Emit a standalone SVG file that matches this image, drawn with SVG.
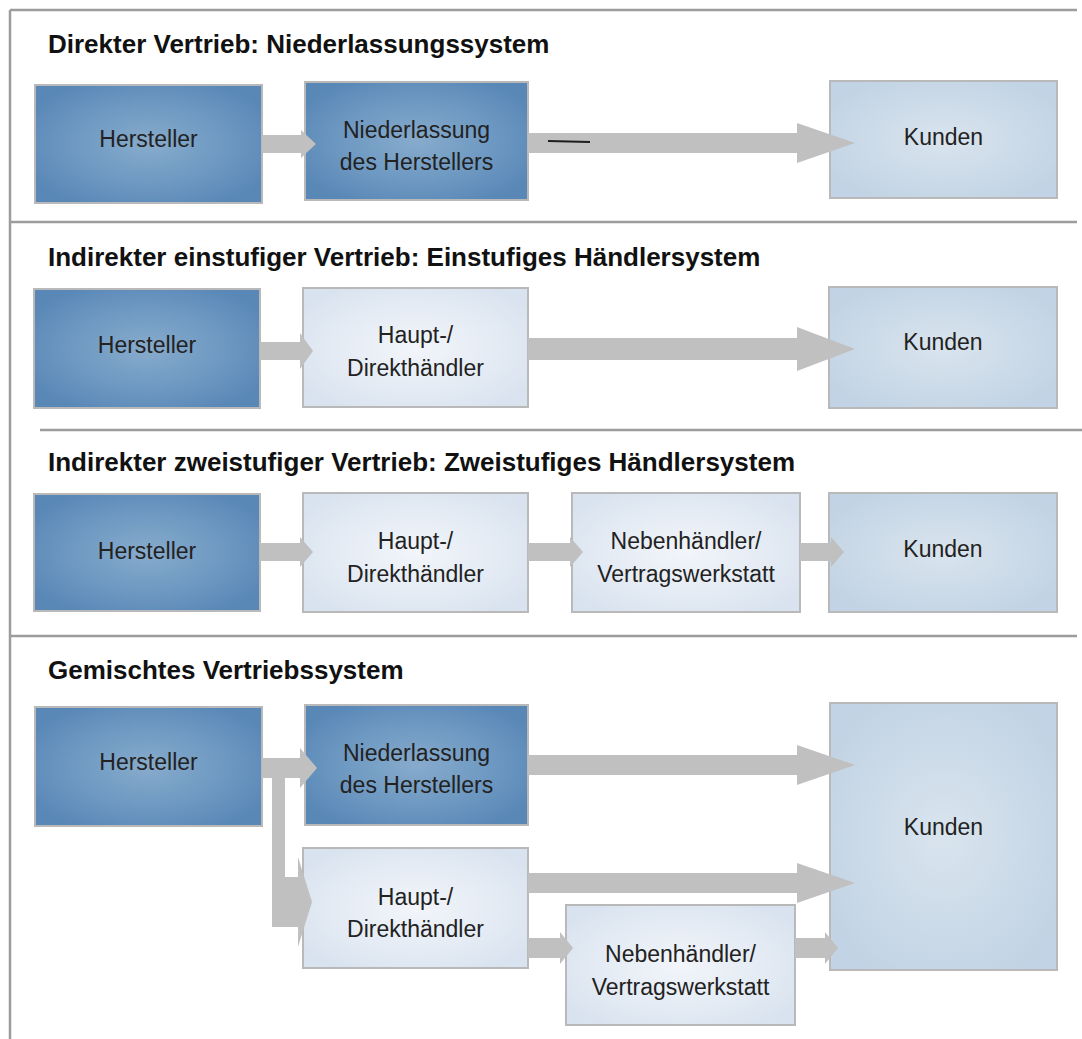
<svg xmlns="http://www.w3.org/2000/svg" width="1082" height="1039" viewBox="0 0 1082 1039">
  <defs>
    <radialGradient id="gDark" cx="0.5" cy="0.5" r="0.6">
      <stop offset="0" stop-color="#87abcc"/>
      <stop offset="0.55" stop-color="#6e99c2"/>
      <stop offset="1" stop-color="#5987b6"/>
    </radialGradient>
    <radialGradient id="gLight" cx="0.5" cy="0.5" r="0.6">
      <stop offset="0" stop-color="#f2f5fa"/>
      <stop offset="0.6" stop-color="#e4ebf4"/>
      <stop offset="1" stop-color="#d9e3ef"/>
    </radialGradient>
    <radialGradient id="gCust" cx="0.5" cy="0.5" r="0.6">
      <stop offset="0" stop-color="#d9e4ee"/>
      <stop offset="0.6" stop-color="#cbdae8"/>
      <stop offset="1" stop-color="#c1d3e4"/>
    </radialGradient>
  </defs>
  <style>
    .frame { stroke: #9c9c9c; stroke-width: 2.5; fill: none; }
    .box { stroke: #b9b9b9; stroke-width: 2; }
    .dark { fill: url(#gDark); }
    .light { fill: url(#gLight); }
    .cust { fill: url(#gCust); }
    .lbl { font-family: "Liberation Sans", Arial, sans-serif; font-size: 23px; fill: #222; text-anchor: middle; }
    .title { font-family: "Liberation Sans", Arial, sans-serif; font-size: 26px; font-weight: bold; fill: #111; }
    .arr { fill: #c0c0c0; }
  </style>

  <rect x="0" y="0" width="1082" height="1039" fill="#ffffff"/>

  <!-- frame and section separators -->
  <g id="frame">
    <line class="frame" x1="10" y1="10" x2="1077" y2="10"/>
    <line class="frame" x1="10" y1="10" x2="10" y2="1039"/>
    <line class="frame" x1="10" y1="222" x2="1077" y2="222"/>
    <line class="frame" x1="40" y1="430" x2="1082" y2="430"/>
    <line class="frame" x1="10" y1="636" x2="1077" y2="636"/>
  </g>

  <!-- section titles -->
  <g id="titles">
    <text class="title" x="48" y="53">Direkter Vertrieb: Niederlassungssystem</text>
    <text class="title" x="48" y="266">Indirekter einstufiger Vertrieb: Einstufiges Händlersystem</text>
    <text class="title" x="48" y="471">Indirekter zweistufiger Vertrieb: Zweistufiges Händlersystem</text>
    <text class="title" x="48" y="679">Gemischtes Vertriebssystem</text>
  </g>

  <!-- section 1: direct sales -->
  <g id="s1-hersteller">
    <rect class="box dark" x="35" y="85" width="227" height="118"/>
    <text class="lbl" x="148.5" y="147">Hersteller</text>
  </g>
  <g id="s1-niederlassung">
    <rect class="box dark" x="305" y="82" width="223" height="118"/>
    <text class="lbl" x="416.5" y="138">Niederlassung</text>
    <text class="lbl" x="416.5" y="170">des Herstellers</text>
  </g>
  <g id="s1-kunden">
    <rect class="box cust" x="830" y="81" width="227" height="117"/>
    <text class="lbl" x="943.5" y="145">Kunden</text>
  </g>

  <!-- section 2: one-stage dealer system -->
  <g id="s2-hersteller">
    <rect class="box dark" x="34" y="289" width="226" height="119"/>
    <text class="lbl" x="147" y="353">Hersteller</text>
  </g>
  <g id="s2-haendler">
    <rect class="box light" x="303" y="288" width="225" height="119"/>
    <text class="lbl" x="415.5" y="343">Haupt-/</text>
    <text class="lbl" x="415.5" y="376">Direkthändler</text>
  </g>
  <g id="s2-kunden">
    <rect class="box cust" x="829" y="287" width="228" height="121"/>
    <text class="lbl" x="943" y="350">Kunden</text>
  </g>

  <!-- section 3: two-stage dealer system -->
  <g id="s3-hersteller">
    <rect class="box dark" x="34" y="494" width="226" height="117"/>
    <text class="lbl" x="147" y="559">Hersteller</text>
  </g>
  <g id="s3-haendler">
    <rect class="box light" x="303" y="493" width="225" height="119"/>
    <text class="lbl" x="415.5" y="549">Haupt-/</text>
    <text class="lbl" x="415.5" y="582">Direkthändler</text>
  </g>
  <g id="s3-nebenhaendler">
    <rect class="box light" x="572" y="493" width="228" height="119"/>
    <text class="lbl" x="686" y="549">Nebenhändler/</text>
    <text class="lbl" x="686" y="582">Vertragswerkstatt</text>
  </g>
  <g id="s3-kunden">
    <rect class="box cust" x="829" y="493" width="228" height="119"/>
    <text class="lbl" x="943" y="557">Kunden</text>
  </g>

  <!-- section 4: mixed system -->
  <g id="s4-hersteller">
    <rect class="box dark" x="35" y="707" width="227" height="119"/>
    <text class="lbl" x="148.5" y="770">Hersteller</text>
  </g>
  <g id="s4-niederlassung">
    <rect class="box dark" x="305" y="705" width="223" height="120"/>
    <text class="lbl" x="416.5" y="761">Niederlassung</text>
    <text class="lbl" x="416.5" y="793">des Herstellers</text>
  </g>
  <g id="s4-kunden">
    <rect class="box cust" x="830" y="703" width="227" height="267"/>
    <text class="lbl" x="943.5" y="835">Kunden</text>
  </g>
  <g id="s4-haendler">
    <rect class="box light" x="303" y="848" width="225" height="120"/>
    <text class="lbl" x="415.5" y="905">Haupt-/</text>
    <text class="lbl" x="415.5" y="937">Direkthändler</text>
  </g>
  <g id="s4-nebenhaendler">
    <rect class="box light" x="566" y="905" width="229" height="120"/>
    <text class="lbl" x="680.5" y="962">Nebenhändler/</text>
    <text class="lbl" x="680.5" y="995">Vertragswerkstatt</text>
  </g>

  <!-- block arrows -->
  <g id="connectors">
    <!-- section 1 -->
    <polygon class="arr" points="262,135 301,135 301,130 316,144 301,158 301,153 262,153"/>
    <polygon class="arr" points="528,133 797,133 797,123 855,143 797,163 797,153 528,153"/>
    <line x1="548" y1="141" x2="590" y2="142" stroke="#1e1e1e" stroke-width="2"/>
    <!-- section 2 -->
    <polygon class="arr" points="260,342 300,342 300,333 313,351 300,369 300,360 260,360"/>
    <polygon class="arr" points="528,338 797,338 797,327 855,349 797,371 797,360 528,360"/>
    <!-- section 3 -->
    <polygon class="arr" points="260,543 300,543 300,537 313,552 300,567 300,561 260,561"/>
    <polygon class="arr" points="528,543 570,543 570,537 583,552 570,567 570,561 528,561"/>
    <polygon class="arr" points="800,543 831,543 831,537 844,552 831,567 831,561 800,561"/>
    <!-- section 4 -->
    <polygon class="arr" points="262,758 300,758 300,748 317,768 300,788 300,778 285,778 285,877 298,877 298,857 312,902 298,947 298,927 272,927 272,778 262,778"/>
    <polygon class="arr" points="528,755 797,755 797,745 855,765 797,785 797,775 528,775"/>
    <polygon class="arr" points="528,873 797,873 797,863 855,883 797,903 797,893 528,893"/>
    <polygon class="arr" points="528,938 560,938 560,932 573,948 560,964 560,958 528,958"/>
    <polygon class="arr" points="795,938 825,938 825,932 838,948 825,964 825,958 795,958"/>
  </g>
</svg>
